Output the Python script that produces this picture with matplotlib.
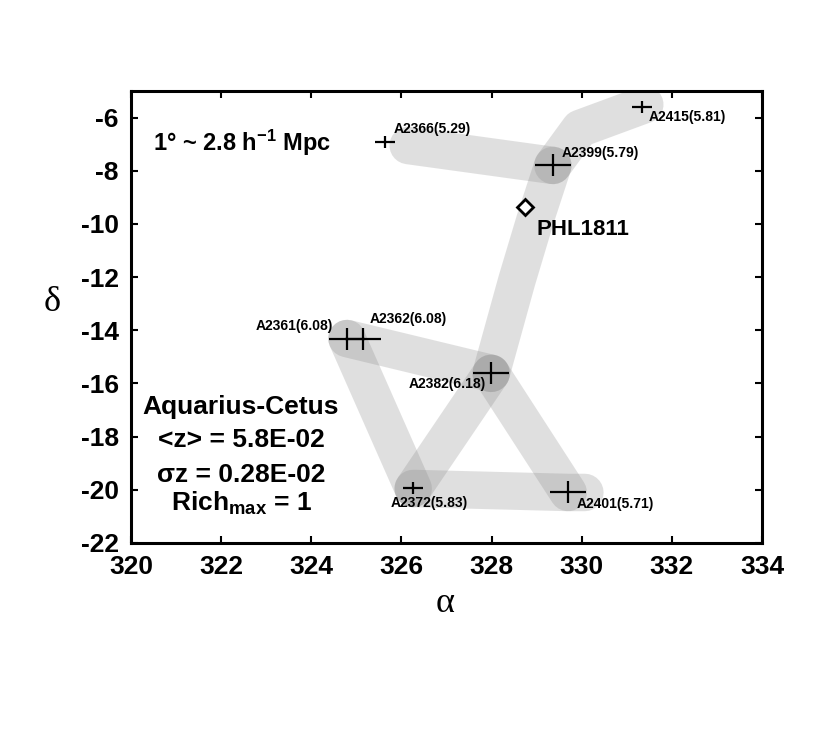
import matplotlib
matplotlib.use("Agg")
import matplotlib.pyplot as plt
from matplotlib.path import Path

plt.rcParams['font.family'] = ['Liberation Sans', 'DejaVu Sans']
plt.rcParams['font.weight'] = 'bold'
plt.rcParams['axes.unicode_minus'] = False
plt.rcParams['mathtext.fontset'] = 'custom'
plt.rcParams['mathtext.rm'] = 'Liberation Sans:bold'
plt.rcParams['mathtext.it'] = 'Liberation Sans:bold'
plt.rcParams['mathtext.bf'] = 'Liberation Sans:bold'

# ---- data ----
cluster_names = ["A2366", "A2415", "A2399", "A2361", "A2362", "A2382", "A2372", "A2401"]
cluster_z = ["5.29", "5.81", "5.79", "6.08", "6.08", "6.18", "5.83", "5.71"]
cluster_ra = [325.64, 331.34, 329.36, 324.79, 325.15, 327.99, 326.26, 329.70]
cluster_dec = [-6.90, -5.59, -7.80, -14.31, -14.31, -15.62, -19.95, -20.10]

qso_name = "PHL1811"
qso_ra = [328.74]
qso_dec = [-9.38]

# filament bands (RA, Dec nodes)
band_ra = [
    [326.15, 329.36],
    [329.36, 329.96, 331.40],
    [329.36, 328.96, 328.56, 327.99],
    [327.99, 326.26],
    [324.79, 327.99],
    [324.79, 326.26],
    [326.26, 329.70, 330.07],
    [327.99, 329.70],
]
band_dec = [
    [-7.05, -7.80],
    [-7.80, -6.41, -5.51],
    [-7.80, -9.87, -12.13, -15.62],
    [-15.62, -19.95],
    [-14.31, -15.62],
    [-14.31, -19.95],
    [-19.95, -20.10, -20.10],
    [-15.62, -20.10],
]

x_ticks = [320, 322, 324, 326, 328, 330, 332, 334]
y_ticks = [-22, -20, -18, -16, -14, -12, -10, -8, -6]

info_lines = ["Aquarius-Cetus", "<z> = 5.8E-02", "σz = 0.28E-02", "Rich$_{\\mathregular{max}}$ = 1"]
scale_text = "1° ~ 2.8 h$^{\\mathregular{-1}}$ Mpc"

# ---- styles ----
big_cross = {"A2399", "A2361", "A2362", "A2382", "A2401"}
label_offsets = {  # pixel offsets, horizontal alignment
    "A2366": (8, 13, 'left'),
    "A2415": (7, -10, 'left'),
    "A2399": (9, 12, 'left'),
    "A2361": (-14, 13, 'right'),
    "A2362": (6, 20, 'left'),
    "A2382": (-5, -11, 'right'),
    "A2372": (-23, -15, 'left'),
    "A2401": (8, -12, 'left'),
}

fig = plt.figure(figsize=(8.3, 7.31), dpi=100)
ax = fig.add_axes([0.158, 0.2572, 0.76, 0.6183])

for xs, ys in zip(band_ra, band_dec):
    ax.plot(xs, ys, color='#8c8c8c', alpha=0.27, lw=27,
            solid_capstyle='round', solid_joinstyle='round', zorder=1)

cross = Path([(-1, 0), (1, 0), (0, -0.62), (0, 0.62)],
             [Path.MOVETO, Path.LINETO, Path.MOVETO, Path.LINETO])

for name, z, x, y in zip(cluster_names, cluster_z, cluster_ra, cluster_dec):
    ms = 26.6 if name in big_cross else 14
    ax.plot([x], [y], marker=cross, markersize=ms, markeredgewidth=1.6,
            color='black', linestyle='none', zorder=3)
    dx, dy, ha = label_offsets[name]
    ax.annotate(f"{name}({z})", (x, y), xytext=(dx, dy), textcoords='offset pixels',
                ha=ha, va='center', fontsize=10, fontweight='bold', zorder=4)

ax.plot(qso_ra, qso_dec, marker='D', markersize=8, markeredgewidth=2,
        markerfacecolor='white', markeredgecolor='black', linestyle='none', zorder=3)
ax.annotate(qso_name, (qso_ra[0], qso_dec[0]), xytext=(12, -22), textcoords='offset pixels',
            ha='left', va='center', fontsize=16, fontweight='bold')

ax.text(320.49, -6.94, scale_text, fontsize=17, fontweight='bold', ha='left', va='center')

info_y = [-16.9, -18.14, -19.46, -20.5]
for s, yy in zip(info_lines, info_y):
    ax.text(322.44, yy, s, fontsize=19, fontweight='bold', ha='center', va='center')

ax.set_xlim(320, 334)
ax.set_ylim(-22, -5)
ax.set_xticks(x_ticks)
ax.set_yticks(y_ticks)
ax.set_xticklabels([str(t) for t in x_ticks])
ax.set_yticklabels([str(t) for t in y_ticks])
ax.tick_params(direction='in', top=True, right=True, length=5, width=1.5,
               labelsize=19, pad=9)
for lab in ax.get_xticklabels() + ax.get_yticklabels():
    lab.set_fontweight('bold')
for sp in ax.spines.values():
    sp.set_linewidth(2.2)

ax.set_xlabel('α', fontfamily=['Liberation Serif', 'DejaVu Serif'], fontsize=26,
              fontweight='normal', va='center', ha='center')
ax.set_ylabel('δ', fontfamily=['Liberation Serif', 'DejaVu Serif'], fontsize=26,
              fontweight='normal', rotation=0, va='center', ha='center')
ax.xaxis.set_label_coords(0.4976, -0.133)
ax.yaxis.set_label_coords(-0.125, 0.533)

fig.savefig('out.png', dpi=100)
